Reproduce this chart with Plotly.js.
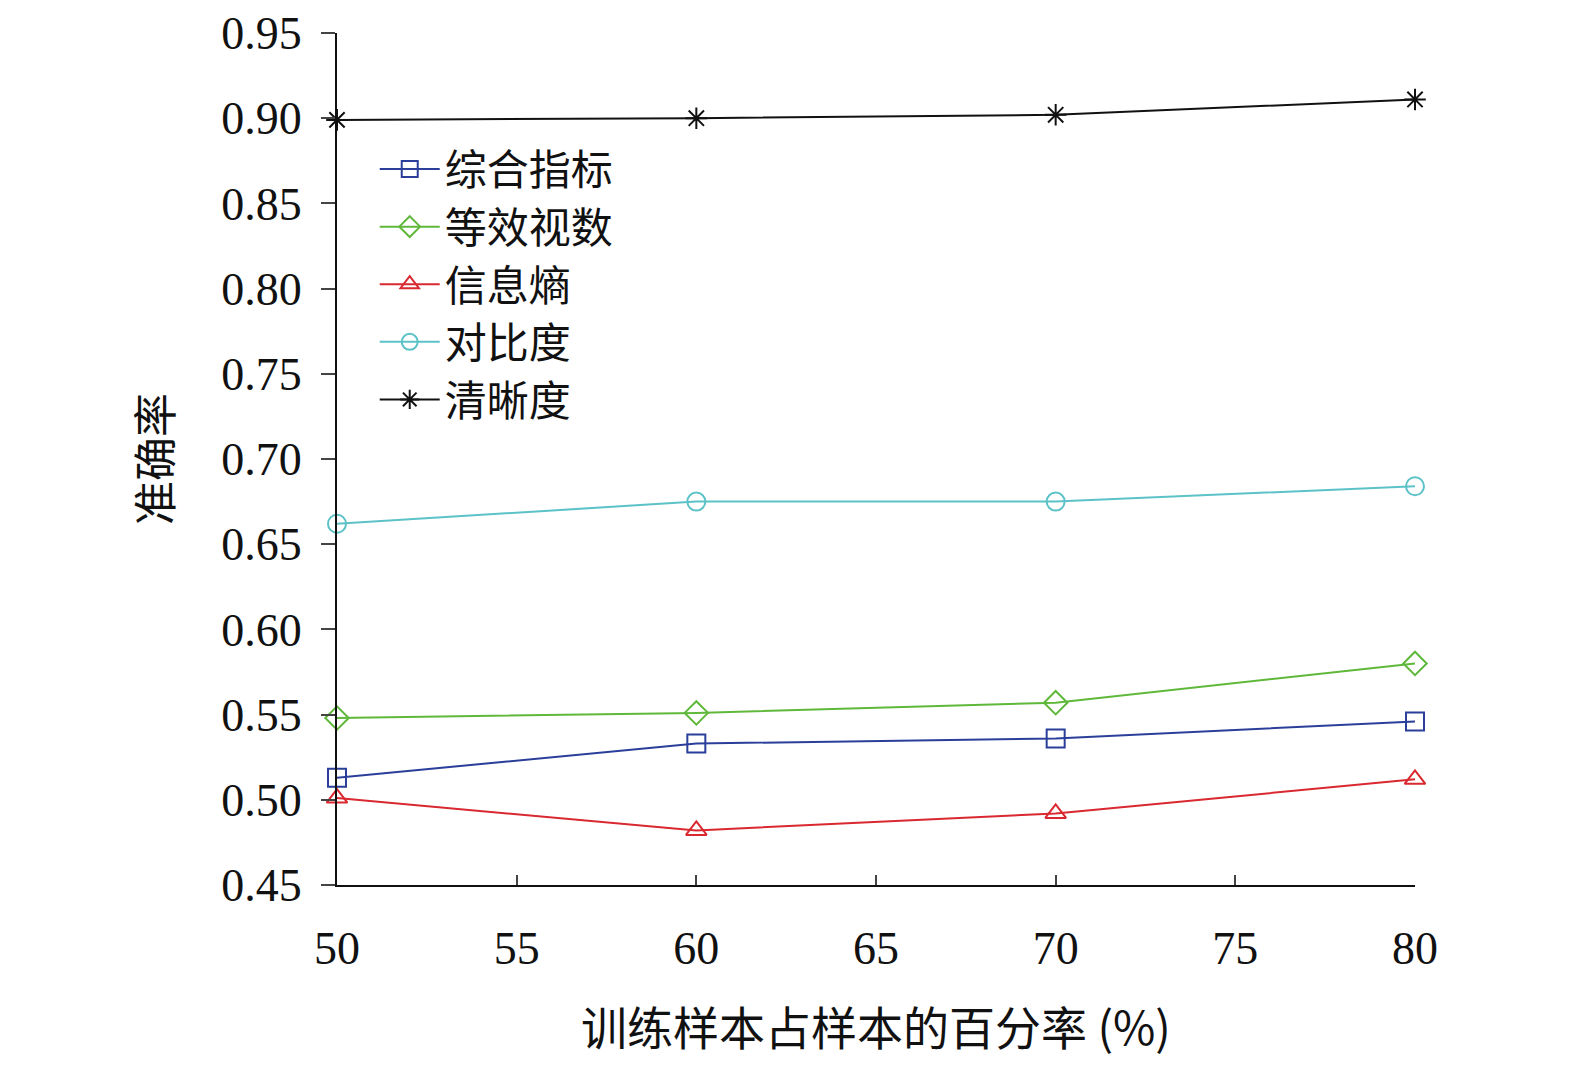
<!DOCTYPE html>
<html>
<head>
<meta charset="utf-8">
<script src="https://cdn.plot.ly/plotly-3.0.1.min.js"></script>
</head>
<body style="margin:0">
<div id="chartDiv" style="width:1575px;height:1066px"></div>
<script>
"use strict";

const xValues = [50, 60, 70, 80];
const seriesNames = ["综合指标", "等效视数", "信息熵", "对比度", "清晰度"];
const compositeValues = [0.513, 0.533, 0.536, 0.546];
const enlValues = [0.548, 0.551, 0.557, 0.580];
const entropyValues = [0.501, 0.482, 0.492, 0.512];
const contrastValues = [0.662, 0.675, 0.675, 0.684];
const clarityValues = [0.899, 0.900, 0.902, 0.911];

const allValues = [compositeValues, enlValues, entropyValues, contrastValues, clarityValues];
const colors = ["#2b3f9a", "#5fb83a", "#d9282f", "#5cc2c8", "#111111"];
const symbols = ["square-open", "diamond-open", "triangle-up-open", "circle-open", "asterisk-open"];

var traces = allValues.map(function (values, i) {
    return {
        x: xValues,
        y: values,
        name: seriesNames[i],
        type: "scatter",
        mode: "lines+markers",
        line: { color: colors[i], width: 2 },
        marker: { symbol: symbols[i], size: 18, color: colors[i], line: { width: 2, color: colors[i] } },
        cliponaxis: false
    };
});

var layout = {
    width: 1575,
    height: 1066,
    margin: { l: 337, r: 160, t: 33, b: 181 },
    paper_bgcolor: "white",
    plot_bgcolor: "white",
    font: { family: "Liberation Serif, 'Noto Sans CJK SC', serif", size: 40, color: "#111" },
    showlegend: true,
    legend: {
        x: 0.035, y: 0.88, xanchor: "left", yanchor: "top",
        bgcolor: "rgba(0,0,0,0)",
        font: { family: "'Noto Sans CJK SC', serif", size: 42 },
        tracegroupgap: 0,
        itemwidth: 60
    },
    xaxis: {
        range: [50, 80],
        tickvals: [50, 55, 60, 65, 70, 75, 80],
        ticks: "inside", ticklen: 10, tickwidth: 2,
        ticklabelstandoff: 22,
        showline: true, linewidth: 2, linecolor: "#111",
        showgrid: false, zeroline: false,
        tickfont: { size: 46 },
        title: { text: "训练样本占样本的百分率 (%)", font: { size: 46, family: "'Noto Sans CJK SC', serif" }, standoff: 40 }
    },
    yaxis: {
        range: [0.45, 0.95],
        dtick: 0.05,
        tickformat: ".2f",
        ticks: "outside", ticklen: 14, tickwidth: 2,
        ticklabelstandoff: 10,
        showline: true, linewidth: 2, linecolor: "#111",
        showgrid: false, zeroline: false,
        tickfont: { size: 46 },
        title: { text: "准确率", font: { size: 44, family: "'Noto Sans CJK SC', serif" }, standoff: 35 }
    }
};

Plotly.newPlot("chartDiv", traces, layout, { displayModeBar: false });
</script>
</body>
</html>
